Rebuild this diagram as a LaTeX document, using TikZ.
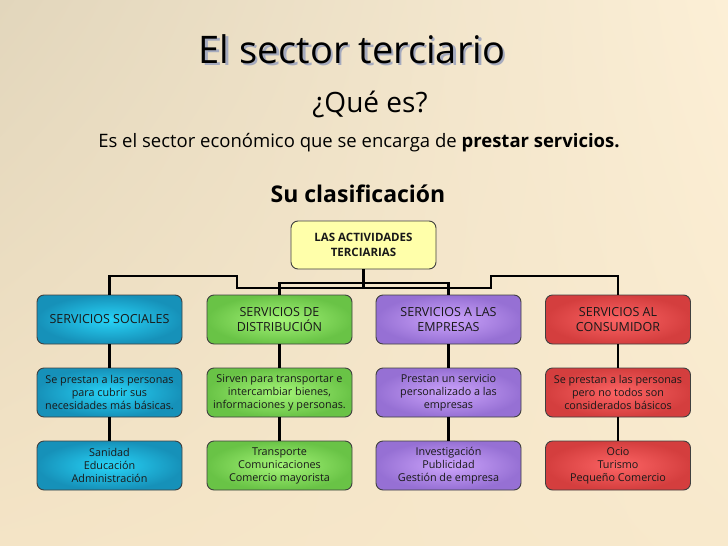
\documentclass[tikz,border=0pt]{standalone}
\usepackage{fontspec}
\setmainfont{Open Sans}
\usetikzlibrary{shadings}
\definecolor{bgUL}{RGB}{226,214,188}
\definecolor{bgUR}{RGB}{252,239,214}
\definecolor{bgLL}{RGB}{244,228,198}
\definecolor{bgLR}{RGB}{248,233,204}
\definecolor{blueIn}{RGB}{40,212,248}
\definecolor{blueOut}{RGB}{22,145,185}
\definecolor{greenIn}{RGB}{165,245,120}
\definecolor{greenOut}{RGB}{105,195,70}
\definecolor{purpleIn}{RGB}{205,165,252}
\definecolor{purpleOut}{RGB}{150,112,212}
\definecolor{redIn}{RGB}{252,100,100}
\definecolor{redOut}{RGB}{212,62,62}
\definecolor{topFill}{RGB}{255,255,170}
\definecolor{shadowC}{RGB}{165,170,190}
\begin{document}
\begin{tikzpicture}[x=1pt,y=-1pt,
  box/.style={rounded corners=7pt,draw=black!75,line width=0.9pt,minimum width=145pt,minimum height=49pt,inner sep=1pt,align=center,font=\fontsize{10.8}{13}\selectfont,text=black!90},
  capbox/.style={box,font=\fontsize{12.5}{14.5}\selectfont},
  bluebox/.style={inner color=blueIn,outer color=blueOut},
  greenbox/.style={inner color=greenIn,outer color=greenOut},
  purplebox/.style={inner color=purpleIn,outer color=purpleOut},
  redbox/.style={inner color=redIn,outer color=redOut},
  link/.style={line width=2.4pt,black}]
\useasboundingbox (0,0) rectangle (728,546);
\shade[upper left=bgUL,upper right=bgUR,lower left=bgLL,lower right=bgLR]
  (0,0) rectangle (728,546);
% titles
\node[text=shadowC,font=\fontsize{38}{42}\selectfont] at (354.5,51.5) {El sector terciario};
\node (title) [font=\fontsize{38}{42}\selectfont] at (352,49) {El sector terciario};
\node (que) [font=\fontsize{28}{32}\selectfont] at (370,104) {¿Qué es?};
\node (def) [font=\fontsize{18.5}{22}\selectfont] at (359,143) {Es el sector económico que se encarga de \textbf{prestar servicios.}};
\node (clas) [font=\bfseries\fontsize{23}{27}\selectfont] at (358,194) {Su clasificación};
% top box
\node (top) [box,fill=topFill,minimum height=48pt,font=\bfseries\fontsize{11.5}{15}\selectfont] at (363.5,245) {LAS ACTIVIDADES\\TERCIARIAS};
% row 1
\node (b1) [capbox,bluebox] at (109.5,319.5) {SERVICIOS SOCIALES};
\node (g1) [capbox,greenbox] at (279.5,319.5) {SERVICIOS DE\\DISTRIBUCIÓN};
\node (p1) [capbox,purplebox] at (448.5,319.5) {SERVICIOS A LAS\\EMPRESAS};
\node (r1) [capbox,redbox] at (618,319.5) {SERVICIOS AL\\CONSUMIDOR};
% row 2
\node (b2) [box,bluebox] at (109.5,392.5) {Se prestan a las personas\\para cubrir sus\\necesidades más básicas.};
\node (g2) [box,greenbox] at (279.5,392.5) {Sirven para transportar e\\intercambiar bienes,\\informaciones y personas.};
\node (p2) [box,purplebox] at (448.5,392.5) {Prestan un servicio\\personalizado a las\\empresas};
\node (r2) [box,redbox] at (618,392.5) {Se prestan a las personas\\pero no todos son\\considerados básicos};
% row 3
\node (b3) [box,bluebox] at (109.5,465.5) {Sanidad\\Educación\\Administración};
\node (g3) [box,greenbox] at (279.5,465.5) {Transporte\\Comunicaciones\\Comercio mayorista};
\node (p3) [box,purplebox] at (448.5,465.5) {Investigación\\Publicidad\\Gestión de empresa};
\node (r3) [box,redbox] at (618,465.5) {Ocio\\Turismo\\Pequeño Comercio};
% connectors
\coordinate (j) at (363.5,288);
\draw[link] (top.south) -- (j);
\draw[link] (j) -- (237,288) -- (237,276) -- (b1.north |- 0,276) -- (b1.north);
\draw[link] (top.south |- 0,283) -- (g1.north |- 0,283) -- (g1.north);
\draw[link] (top.south |- 0,283) -- (p1.north |- 0,283) -- (p1.north);
\draw[link] (j) -- (491,288) -- (491,276) -- (r1.north |- 0,276) -- (r1.north);
\foreach \c in {b,g,p,r}{
  \draw[link] (\c1.south) -- (\c2.north);
  \draw[link] (\c2.south) -- (\c3.north);
}
\end{tikzpicture}
\end{document}
